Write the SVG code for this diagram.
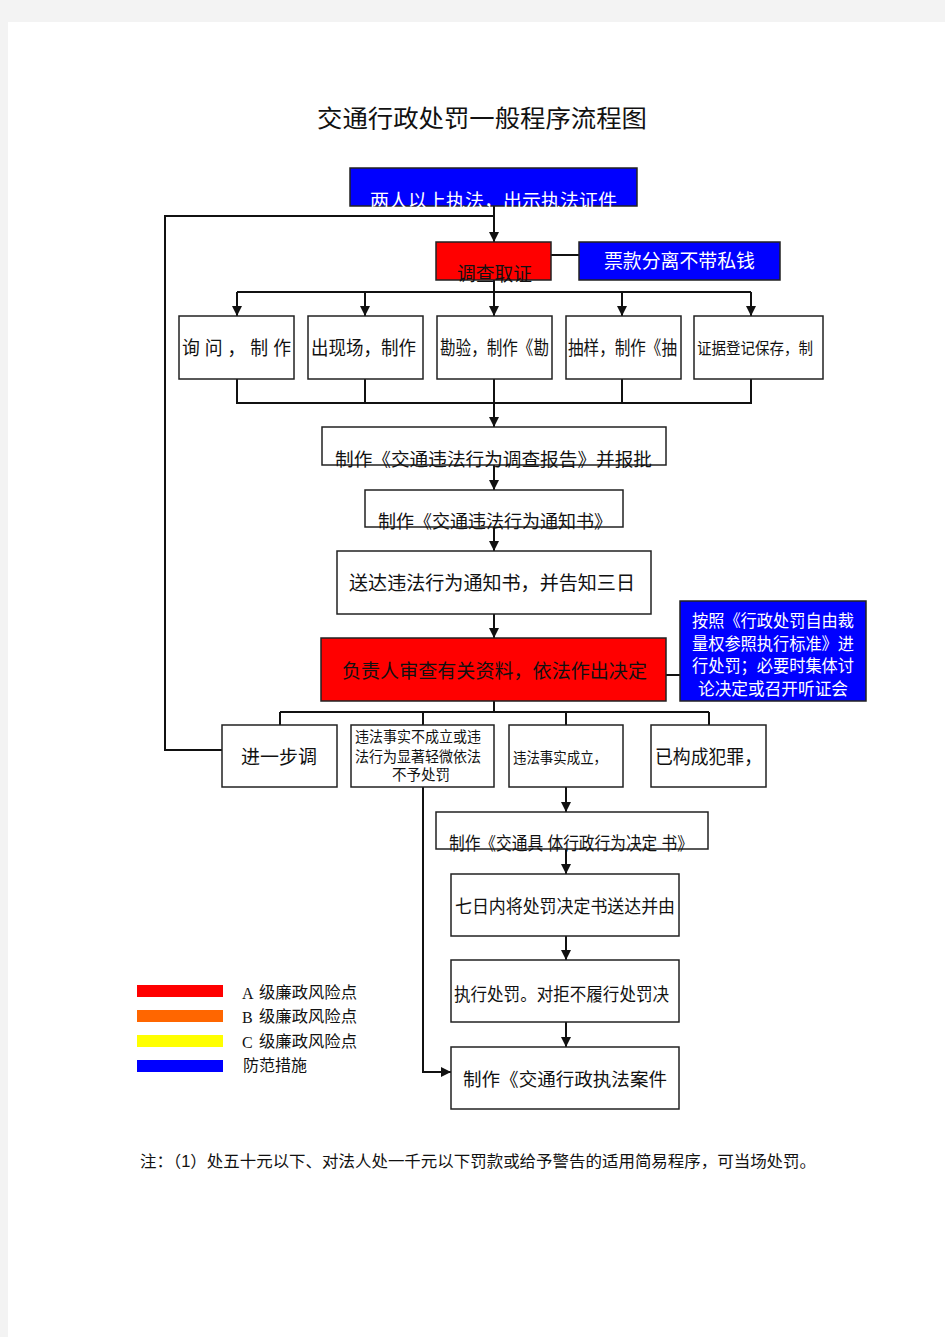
<svg xmlns="http://www.w3.org/2000/svg" width="945" height="1337" viewBox="0 0 945 1337">
<style>
.t{font-family:"Liberation Sans","Noto Sans CJK SC",sans-serif;fill:#111}
.w{fill:#fff}
.bx{fill:#fff;stroke:#222;stroke-width:1.5}
.red{fill:#ff0000;stroke:#222;stroke-width:1.5}
.blue{fill:#0000ff;stroke:#222;stroke-width:1.5}
.ln{fill:none;stroke:#111;stroke-width:2}
.ar{fill:none;stroke:#111;stroke-width:2;marker-end:url(#ah)}
</style>
<defs>
<marker id="ah" markerUnits="userSpaceOnUse" markerWidth="10" markerHeight="10" refX="10" refY="5" orient="auto" viewBox="0 0 10 10">
<path d="M0,0 L10,5 L0,10 z" fill="#111"/>
</marker>
</defs>
<rect width="945" height="1337" fill="#f3f3f3"/>
<rect x="8" y="22" width="937" height="1315" fill="#fff"/>

<text x="317" y="127" font-family="Liberation Serif,'Noto Sans CJK SC',serif" font-size="24" fill="#111" textLength="330" lengthAdjust="spacingAndGlyphs">交通行政处罚一般程序流程图</text>

<g id="connectors">
<path class="ar" d="M494,206 V242"/>
<path class="ln" d="M494,216 H165 V750 H222"/>
<path class="ln" d="M551,255 H580"/>
<path class="ln" d="M494,280 V292"/>
<path class="ln" d="M237,292 H751"/>
<path class="ar" d="M237,292 V316"/>
<path class="ar" d="M365,292 V316"/>
<path class="ar" d="M494,292 V316"/>
<path class="ar" d="M622,292 V316"/>
<path class="ar" d="M751,292 V316"/>
<path class="ln" d="M237,379 V403 H751 V379"/>
<path class="ln" d="M365,379 V403"/>
<path class="ln" d="M622,379 V403"/>
<path class="ar" d="M494,379 V427"/>
<path class="ar" d="M494,465 V490"/>
<path class="ar" d="M494,527 V551"/>
<path class="ar" d="M494,614 V638"/>
<path class="ln" d="M666,675 H680"/>
<path class="ln" d="M494,701 V712"/>
<path class="ln" d="M280,712 H709"/>
<path class="ln" d="M280,712 V725"/>
<path class="ln" d="M423,712 V725"/>
<path class="ln" d="M566,712 V725"/>
<path class="ln" d="M709,712 V725"/>
<path class="ar" d="M423,787 V1072 H451"/>
<path class="ar" d="M566,787 V812"/>
<path class="ar" d="M566,849 V874"/>
<path class="ar" d="M566,936 V960"/>
<path class="ar" d="M566,1022 V1047"/>
</g>

<g id="n-top">
<rect class="blue" x="350" y="168" width="287" height="38"/>
<text class="t w" x="370" y="208" font-size="19" textLength="247" lengthAdjust="spacingAndGlyphs">两人以上执法，出示执法证件</text>
</g>
<g id="n-investigate">
<rect class="red" x="436" y="242" width="115" height="38"/>
<text class="t" x="457" y="281" font-size="19" textLength="75" lengthAdjust="spacingAndGlyphs">调查取证</text>
</g>
<g id="n-ticket">
<rect class="blue" x="579" y="242" width="201" height="38"/>
<text class="t w" x="604" y="268" font-size="19" textLength="151" lengthAdjust="spacingAndGlyphs">票款分离不带私钱</text>
</g>

<g id="n-b1">
<rect class="bx" x="179" y="316" width="115" height="63"/>
<text class="t" x="182" y="355" font-size="19" textLength="109" lengthAdjust="spacingAndGlyphs">询 问 ， 制 作</text>
</g>
<g id="n-b2">
<rect class="bx" x="308" y="316" width="115" height="63"/>
<text class="t" x="311" y="355" font-size="19" textLength="105" lengthAdjust="spacingAndGlyphs">出现场，制作</text>
</g>
<g id="n-b3">
<rect class="bx" x="437" y="316" width="115" height="63"/>
<text class="t" x="440" y="355" font-size="19" textLength="109" lengthAdjust="spacingAndGlyphs">勘验，制作《勘</text>
</g>
<g id="n-b4">
<rect class="bx" x="566" y="316" width="115" height="63"/>
<text class="t" x="568" y="355" font-size="19" textLength="109" lengthAdjust="spacingAndGlyphs">抽样，制作《抽</text>
</g>
<g id="n-b5">
<rect class="bx" x="694" y="316" width="129" height="63"/>
<text class="t" x="697" y="354" font-size="16" textLength="116" lengthAdjust="spacingAndGlyphs">证据登记保存，制</text>
</g>

<g id="n-report">
<rect class="bx" x="322" y="427" width="344" height="38"/>
<text class="t" x="335" y="466" font-size="18.5" textLength="317" lengthAdjust="spacingAndGlyphs">制作《交通违法行为调查报告》并报批</text>
</g>
<g id="n-notice">
<rect class="bx" x="365" y="490" width="258" height="37"/>
<text class="t" x="378" y="528" font-size="18" textLength="234" lengthAdjust="spacingAndGlyphs">制作《交通违法行为通知书》</text>
</g>
<g id="n-deliver">
<rect class="bx" x="337" y="551" width="314" height="63"/>
<text class="t" x="349" y="590" font-size="19" textLength="286" lengthAdjust="spacingAndGlyphs">送达违法行为通知书，并告知三日</text>
</g>
<g id="n-review">
<rect class="red" x="321" y="638" width="345" height="63"/>
<text class="t" x="342" y="678" font-size="19" textLength="305" lengthAdjust="spacingAndGlyphs">负责人审查有关资料，依法作出决定</text>
</g>
<g id="n-standard">
<rect class="blue" x="680" y="601" width="186" height="100"/>
<text class="t w" x="692" y="627" font-size="17" textLength="162" lengthAdjust="spacingAndGlyphs">按照《行政处罚自由裁</text>
<text class="t w" x="692" y="649.5" font-size="17" textLength="162" lengthAdjust="spacingAndGlyphs">量权参照执行标准》进</text>
<text class="t w" x="692" y="672" font-size="17" textLength="162" lengthAdjust="spacingAndGlyphs">行处罚；必要时集体讨</text>
<text class="t w" x="698" y="694.5" font-size="17" textLength="150" lengthAdjust="spacingAndGlyphs">论决定或召开听证会</text>
</g>

<g id="n-further">
<rect class="bx" x="222" y="725" width="115" height="62"/>
<text class="t" x="241" y="764" font-size="19" textLength="76" lengthAdjust="spacingAndGlyphs">进一步调</text>
</g>
<g id="n-nopenalty">
<rect class="bx" x="351" y="725" width="143" height="62" stroke-width="2.5"/>
<text class="t" x="355" y="742" font-size="14.5" textLength="126" lengthAdjust="spacingAndGlyphs">违法事实不成立或违</text>
<text class="t" x="355" y="761.5" font-size="14.5" textLength="126" lengthAdjust="spacingAndGlyphs">法行为显著轻微依法</text>
<text class="t" x="392" y="780" font-size="14.5" textLength="58" lengthAdjust="spacingAndGlyphs">不予处罚</text>
</g>
<g id="n-established">
<rect class="bx" x="509" y="725" width="114" height="62"/>
<text class="t" x="513" y="763" font-size="15" textLength="94" lengthAdjust="spacingAndGlyphs">违法事实成立，</text>
</g>
<g id="n-crime">
<rect class="bx" x="651" y="725" width="115" height="62"/>
<text class="t" x="655" y="764" font-size="19" textLength="107" lengthAdjust="spacingAndGlyphs">已构成犯罪，</text>
</g>

<g id="n-decision">
<rect class="bx" x="436" y="812" width="272" height="37"/>
<text class="t" x="449" y="850" font-size="18" textLength="244" lengthAdjust="spacingAndGlyphs">制作《交通具 体行政行为决定 书》</text>
</g>
<g id="n-seven">
<rect class="bx" x="451" y="874" width="228" height="62"/>
<text class="t" x="455" y="913" font-size="18" textLength="220" lengthAdjust="spacingAndGlyphs">七日内将处罚决定书送达并由</text>
</g>
<g id="n-execute">
<rect class="bx" x="451" y="960" width="228" height="62"/>
<text class="t" x="454" y="1001" font-size="18" textLength="215" lengthAdjust="spacingAndGlyphs">执行处罚。对拒不履行处罚决</text>
</g>
<g id="n-archive">
<rect class="bx" x="451" y="1047" width="228" height="62"/>
<text class="t" x="463" y="1086" font-size="18.5" textLength="204" lengthAdjust="spacingAndGlyphs">制作《交通行政执法案件</text>
</g>

<g id="legend">
<rect x="137" y="985" width="86" height="12" fill="#ff0000"/>
<rect x="137" y="1010" width="86" height="12" fill="#ff6600"/>
<rect x="137" y="1035" width="86" height="12" fill="#ffff00"/>
<rect x="137" y="1060" width="86" height="12" fill="#0000ff"/>
<text x="242" y="999" font-family="Liberation Serif,serif" font-size="16" fill="#111">A</text>
<text class="t" x="259" y="998" font-size="16.3" textLength="98" lengthAdjust="spacingAndGlyphs">级廉政风险点</text>
<text x="242" y="1023" font-family="Liberation Serif,serif" font-size="16" fill="#111">B</text>
<text class="t" x="259" y="1022" font-size="16.3" textLength="98" lengthAdjust="spacingAndGlyphs">级廉政风险点</text>
<text x="242" y="1048" font-family="Liberation Serif,serif" font-size="16" fill="#111">C</text>
<text class="t" x="259" y="1047" font-size="16.3" textLength="98" lengthAdjust="spacingAndGlyphs">级廉政风险点</text>
<text class="t" x="243" y="1071" font-size="16" textLength="64" lengthAdjust="spacingAndGlyphs">防范措施</text>
</g>

<text class="t" x="140" y="1167" font-size="16" textLength="676" lengthAdjust="spacingAndGlyphs">注：（1）处五十元以下、对法人处一千元以下罚款或给予警告的适用简易程序，可当场处罚。</text>
</svg>
